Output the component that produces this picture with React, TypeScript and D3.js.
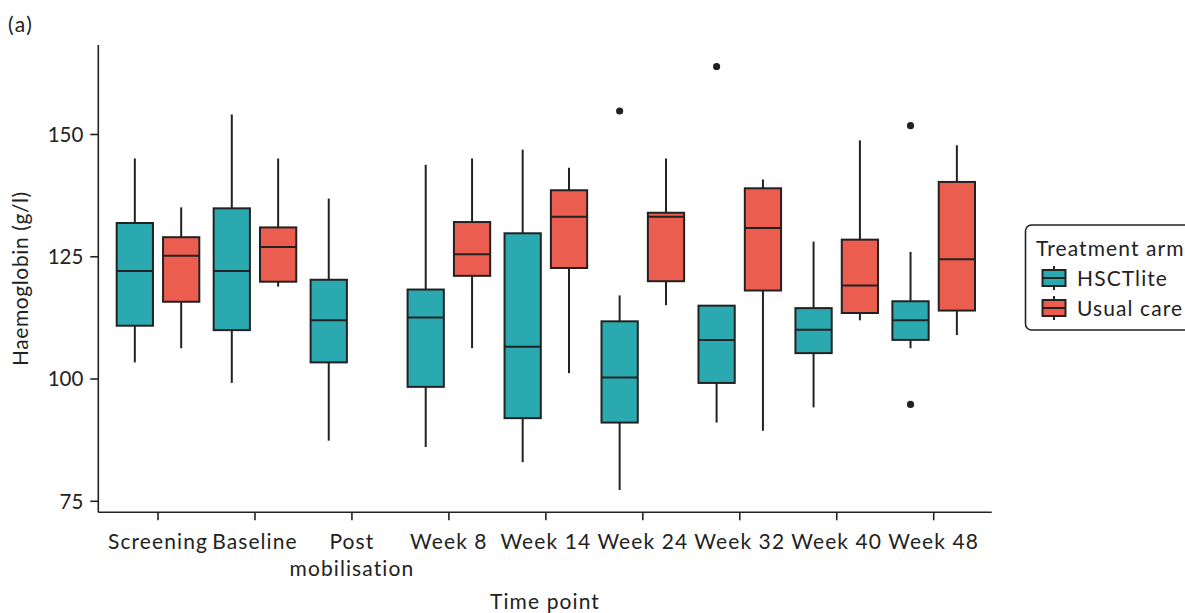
import React from "react";
import * as d3 from "d3";

const categories = ["Screening", "Baseline", "Post mobilisation", "Week 8", "Week 14", "Week 24", "Week 32", "Week 40", "Week 48"];
const groups = ["HSCTlite", "Usual care"];
const groupColors = ["#2BA9B0", "#EB5D4F"];

// HSCTlite five-number summaries
const hsctLow = [103.4, 99.2, 87.4, 86.1, 83.0, 77.3, 91.1, 94.2, 106.3];
const hsctQ1 = [110.9, 110.0, 103.4, 98.4, 92.0, 91.1, 99.2, 105.3, 108.0];
const hsctMedian = [122.1, 122.1, 112.0, 112.6, 106.6, 100.3, 108.0, 110.1, 112.0];
const hsctQ3 = [131.9, 134.9, 120.3, 118.3, 129.8, 111.8, 115.0, 114.5, 115.9];
const hsctHigh = [145.1, 154.1, 136.9, 143.8, 146.9, 117.1, 115.0, 128.1, 126.0];

// Usual care five-number summaries (null = not measured)
const usualLow = [106.3, 118.9, null, 106.3, 101.2, 115.1, 89.4, 112.0, 109.0];
const usualQ1 = [115.8, 119.9, null, 121.1, 122.7, 120.0, 118.1, 113.5, 114.0];
const usualMedian = [125.2, 127.0, null, 125.5, 133.2, 133.2, 130.9, 119.1, 124.5];
const usualQ3 = [129.0, 131.0, null, 132.1, 138.6, 134.0, 139.0, 128.5, 140.3];
const usualHigh = [135.1, 145.1, null, 145.1, 143.2, 145.1, 140.8, 148.8, 147.8];

// Outliers
const outlierCategory = ["Week 24", "Week 32", "Week 48", "Week 48"];
const outlierGroup = ["HSCTlite", "HSCTlite", "HSCTlite", "HSCTlite"];
const outlierValue = [154.8, 163.9, 151.8, 94.8];

const yTicks = [75, 100, 125, 150];

const FONT = "Lato, 'Open Sans', sans-serif";
const INK = "#222222";
const LS = 1.1;

export default function App() {
  const width = 1185;
  const height = 613;
  const left = 98.3;
  const right = 991.7;
  const top = 45;
  const bottom = 512.3;

  const x = d3.scalePoint<string>().domain(categories).range([158, 933.7]);
  const step = x.step();
  const boxW = step * 0.374;
  const dodge = step * 0.239;
  const y = d3.scaleLinear().domain([72.75, 168.3]).range([bottom, top]);

  const series = [
    { low: hsctLow, q1: hsctQ1, med: hsctMedian, q3: hsctQ3, high: hsctHigh },
    { low: usualLow, q1: usualQ1, med: usualMedian, q3: usualQ3, high: usualHigh },
  ];

  const boxes: any[] = [];
  series.forEach((s, gi) => {
    categories.forEach((c, i) => {
      if (s.med[i] == null) return;
      const cx = (x(c) as number) + (gi === 0 ? -dodge : dodge);
      boxes.push({ key: `${gi}-${i}`, cx, gi, low: s.low[i], q1: s.q1[i], med: s.med[i], q3: s.q3[i], high: s.high[i] });
    });
  });

  const xLabelLines = (c: string) => (c === "Post mobilisation" ? ["Post", "mobilisation"] : [c]);

  return (
    <svg width={width} height={height} style={{ position: "absolute", left: 0, top: 0 }} fontFamily={FONT}>
      <rect x={0} y={0} width={width} height={height} fill="#ffffff" />
      <text x={8} y={32} fontSize={21} letterSpacing={1.5} fill={INK}>(a)</text>

      {/* boxes */}
      {boxes.map((b) => (
        <g key={b.key}>
          <line x1={b.cx} x2={b.cx} y1={y(b.high)} y2={y(b.q3)} stroke={INK} strokeWidth={2} />
          <line x1={b.cx} x2={b.cx} y1={y(b.q1)} y2={y(b.low)} stroke={INK} strokeWidth={2} />
          <rect x={b.cx - boxW / 2} y={y(b.q3)} width={boxW} height={y(b.q1) - y(b.q3)} fill={groupColors[b.gi]} stroke={INK} strokeWidth={2} />
          <line x1={b.cx - boxW / 2} x2={b.cx + boxW / 2} y1={y(b.med)} y2={y(b.med)} stroke={INK} strokeWidth={2} />
        </g>
      ))}

      {/* outliers */}
      {outlierValue.map((v, i) => {
        const gi = groups.indexOf(outlierGroup[i]);
        const cx = (x(outlierCategory[i]) as number) + (gi === 0 ? -dodge : dodge);
        return <circle key={i} cx={cx} cy={y(v)} r={3.6} fill={INK} />;
      })}

      {/* axes */}
      <line x1={left} x2={left} y1={top} y2={bottom} stroke={INK} strokeWidth={1.6} />
      <line x1={left} x2={right} y1={bottom} y2={bottom} stroke={INK} strokeWidth={1.6} />
      {yTicks.map((t) => (
        <g key={t}>
          <line x1={left - 8} x2={left} y1={y(t)} y2={y(t)} stroke={INK} strokeWidth={1.6} />
          <text x={left - 15} y={y(t)} dy="0.36em" textAnchor="end" fontSize={20.5} fill={INK}>{t}</text>
        </g>
      ))}
      {categories.map((c) => (
        <g key={c}>
          <line x1={x(c)} x2={x(c)} y1={bottom} y2={bottom + 8} stroke={INK} strokeWidth={1.6} />
          {xLabelLines(c).map((ln, li) => (
            <text key={li} x={x(c)} y={548.5 + li * 27} textAnchor="middle" fontSize={21} letterSpacing={LS} fill={INK}>{ln}</text>
          ))}
        </g>
      ))}

      <text x={(left + right) / 2} y={609} textAnchor="middle" fontSize={21} letterSpacing={LS} fill={INK}>Time point</text>
      <text transform={`translate(28, ${(top + bottom) / 2}) rotate(-90)`} textAnchor="middle" fontSize={21} letterSpacing={0.6} fill={INK}>Haemoglobin (g/l)</text>

      {/* legend */}
      <rect x={1025.5} y={225} width={175} height={105} rx={6} fill="#ffffff" stroke={INK} strokeWidth={1.6} />
      <text x={1036} y={255.5} fontSize={21} letterSpacing={LS} fill={INK}>Treatment arm</text>
      {groups.map((g, i) => {
        const ky = 266 + i * 30;
        const kx = 1054;
        return (
          <g key={g}>
            <line x1={kx} x2={kx} y1={ky} y2={ky + 24} stroke={INK} strokeWidth={2} />
            <rect x={kx - 11.5} y={ky + 4} width={23} height={16} fill={groupColors[i]} stroke={INK} strokeWidth={2} />
            <line x1={kx - 11.5} x2={kx + 11.5} y1={ky + 12} y2={ky + 12} stroke={INK} strokeWidth={2} />
            <text x={1077} y={ky + 20} fontSize={21} letterSpacing={LS} fill={INK}>{g}</text>
          </g>
        );
      })}
    </svg>
  );
}
